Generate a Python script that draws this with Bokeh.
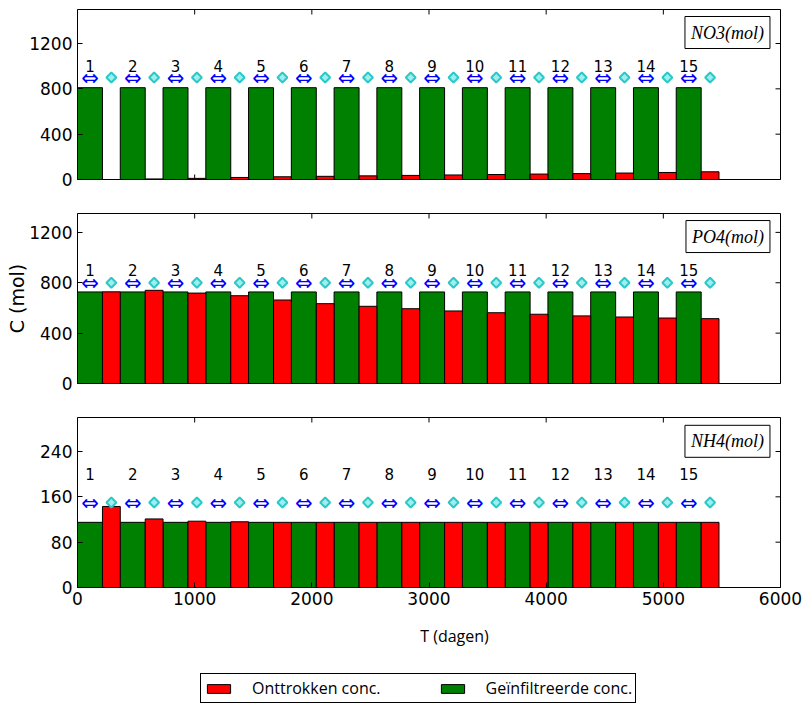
import math
from bokeh.plotting import figure
from bokeh.models import Range1d, FixedTicker, LinearAxis, Label, Legend, LegendItem
from bokeh.layouts import column
from bokeh.embed import file_html
from bokeh.resources import INLINE
from bokeh.core.properties import value

# ---- data ----
cycles = list(range(1, 16))
cycle_days = 365
infiltration_days = 213

no3_infil = [810, 810, 810, 810, 810, 810, 810, 810, 810, 810, 810, 810, 810, 810, 810]
no3_extr = [0, 5, 10, 18, 24, 28, 32, 36, 40, 44, 48, 52, 57, 62, 68]
po4_infil = [727, 727, 727, 727, 727, 727, 727, 727, 727, 727, 727, 727, 727, 727, 727]
po4_extr = [728, 740, 718, 697, 663, 634, 613, 594, 576, 562, 550, 537, 528, 520, 515]
nh4_infil = [115, 115, 115, 115, 115, 115, 115, 115, 115, 115, 115, 115, 115, 115, 115]
nh4_extr = [143, 121, 117, 116, 115, 115, 115, 115, 115, 115, 115, 115, 115, 115, 115]

panel_names = ["NO3(mol)", "PO4(mol)", "NH4(mol)"]
y_max = [1500, 1350, 300]
y_ticks = [[0, 400, 800, 1200], [0, 400, 800, 1200], [0, 80, 160, 240]]
marker_y = [900, 800, 150]
number_y = [1000, 900, 200]
name_y = [1297, 1167, 258]
x_ticks = [0, 1000, 2000, 3000, 4000, 5000, 6000]
x_max = 6000

legend_labels = ["Onttrokken conc.", "Geïnfiltreerde conc."]
GREEN = "#008000"
RED = "#ff0000"

W = 805
FRAME_LEFT = 77
FRAME_RIGHT = 780
RB = W - FRAME_RIGHT

starts = [(c - 1) * cycle_days for c in cycles]
g_left = starts
g_right = [s + infiltration_days for s in starts]
r_left = g_right
r_right = [s + cycle_days for s in starts]
g_center = [(a + b) / 2 for a, b in zip(g_left, g_right)]
r_center = [(a + b) / 2 for a, b in zip(r_left, r_right)]


def style_axis(ax):
    ax.axis_line_color = None
    ax.major_tick_in = 5
    ax.major_tick_out = 0
    ax.major_tick_line_color = "black"
    ax.minor_tick_line_color = None
    ax.major_label_text_font = "DejaVu Sans"
    ax.major_label_text_color = "black"
    ax.major_label_text_font_size = "17px"
    ax.major_label_standoff = 5


def make_panel(i, infil, extr, height, top, bottom, show_x, ylabel=None):
    p = figure(width=W, height=height, x_range=Range1d(0, x_max), y_range=Range1d(0, y_max[i]),
               output_backend="svg", toolbar_location=None,
               x_axis_type=None, y_axis_type=None,
               min_border_left=FRAME_LEFT, min_border_right=RB,
               min_border_top=top, min_border_bottom=bottom)
    p.outline_line_color = "black"
    p.outline_line_width = 1
    p.outline_line_alpha = 1
    p.background_fill_color = "white"
    p.border_fill_color = "white"

    left = LinearAxis(ticker=FixedTicker(ticks=y_ticks[i]))
    style_axis(left)
    if ylabel:
        left.axis_label = ylabel
        left.axis_label_text_font = "DejaVu Sans"
        left.axis_label_text_font_size = "19px"
        left.axis_label_text_font_style = "normal"
        left.axis_label_text_color = "black"
        left.axis_label_standoff = -2
    p.add_layout(left, "left")

    n_y = len(y_ticks[i])
    n_x = len(x_ticks)
    # inward ticks on the right side and on top (half of each dash is clipped by the frame)
    p.scatter(x=[x_max] * n_y, y=y_ticks[i], marker="dash", size=10, line_color="black", line_width=1)
    p.scatter(x=x_ticks, y=[y_max[i]] * n_x, marker="dash", size=10, angle=math.pi / 2,
              line_color="black", line_width=1)
    if show_x:
        below = LinearAxis(ticker=FixedTicker(ticks=x_ticks))
        style_axis(below)
        below.major_label_standoff = 4
        p.add_layout(below, "below")
    else:
        p.scatter(x=x_ticks, y=[0] * n_x, marker="dash", size=10, angle=math.pi / 2,
                  line_color="black", line_width=1)

    p.quad(left=g_left, right=g_right, bottom=0, top=infil,
           fill_color=GREEN, line_color="black", line_width=1)
    p.quad(left=r_left, right=r_right, bottom=0, top=extr,
           fill_color=RED, line_color="black", line_width=1)

    p.text(x=g_center, y=[marker_y[i]] * len(cycles), text=["\u21d4"] * len(cycles),
           text_color="blue", text_font=value("DejaVu Sans"), text_font_size="21px",
           text_align="center", text_baseline="middle")
    p.scatter(x=r_center, y=[marker_y[i]] * len(cycles), marker="square", size=7, angle=math.pi / 4,
              fill_color="#9eeeee", line_color="#2cc8c8", line_width=2)
    p.text(x=g_center, y=[number_y[i]] * len(cycles), text=[str(c) for c in cycles],
           text_color="black", text_font=value("DejaVu Sans"), text_font_size="15px",
           text_align="center", text_baseline="middle")

    lab = Label(x=5910, y=name_y[i], text=panel_names[i], text_align="right",
                text_baseline="middle", text_font="Liberation Serif",
                text_font_style="italic", text_font_size="18px", text_color="black",
                border_line_color="black", border_line_width=1,
                background_fill_color="white", padding=6)
    p.add_layout(lab)
    return p


p1 = make_panel(0, no3_infil, no3_extr, 196, 9, 17, False)
p2 = make_panel(1, po4_infil, po4_extr, 204, 17, 17, False, ylabel="C (mol)")
p3 = make_panel(2, nh4_infil, nh4_extr, 212, 17, 25, True)

H4 = 100
p4 = figure(width=W, height=H4, x_range=Range1d(FRAME_LEFT, FRAME_RIGHT), y_range=Range1d(0, H4),
            output_backend="svg", toolbar_location=None, x_axis_type=None, y_axis_type=None,
            min_border_left=FRAME_LEFT, min_border_right=RB, min_border_top=0, min_border_bottom=0)
p4.outline_line_color = None
p4.background_fill_color = "white"
p4.border_fill_color = "white"
# zero-size proxies (outside the visible range) that only feed the legend
r_red = p4.quad(left=[0], right=[0], top=[0], bottom=[0], fill_color=RED, line_color="black")
r_green = p4.quad(left=[0], right=[0], top=[0], bottom=[0], fill_color=GREEN, line_color="black")
legend = Legend(items=[LegendItem(label=legend_labels[0], renderers=[r_red]),
                       LegendItem(label=legend_labels[1], renderers=[r_green])],
                orientation="horizontal", location=(123, 9),
                border_line_color="black", border_line_width=1, border_line_alpha=1,
                background_fill_color="white", background_fill_alpha=1,
                padding=3, spacing=57, glyph_width=29, glyph_height=11,
                label_standoff=19, label_text_font="Open Sans", label_text_font_size="16px",
                label_text_color="black", label_height=18, margin=0)
p4.add_layout(legend)
p4.add_layout(Label(x=454, y=77, text="T (dagen)", text_align="center", text_baseline="middle",
                    text_font="Open Sans", text_font_size="16px", text_color="black"))

layout = column(p1, p2, p3, p4, spacing=0)
open("out.html", "w").write(file_html(layout, INLINE))
